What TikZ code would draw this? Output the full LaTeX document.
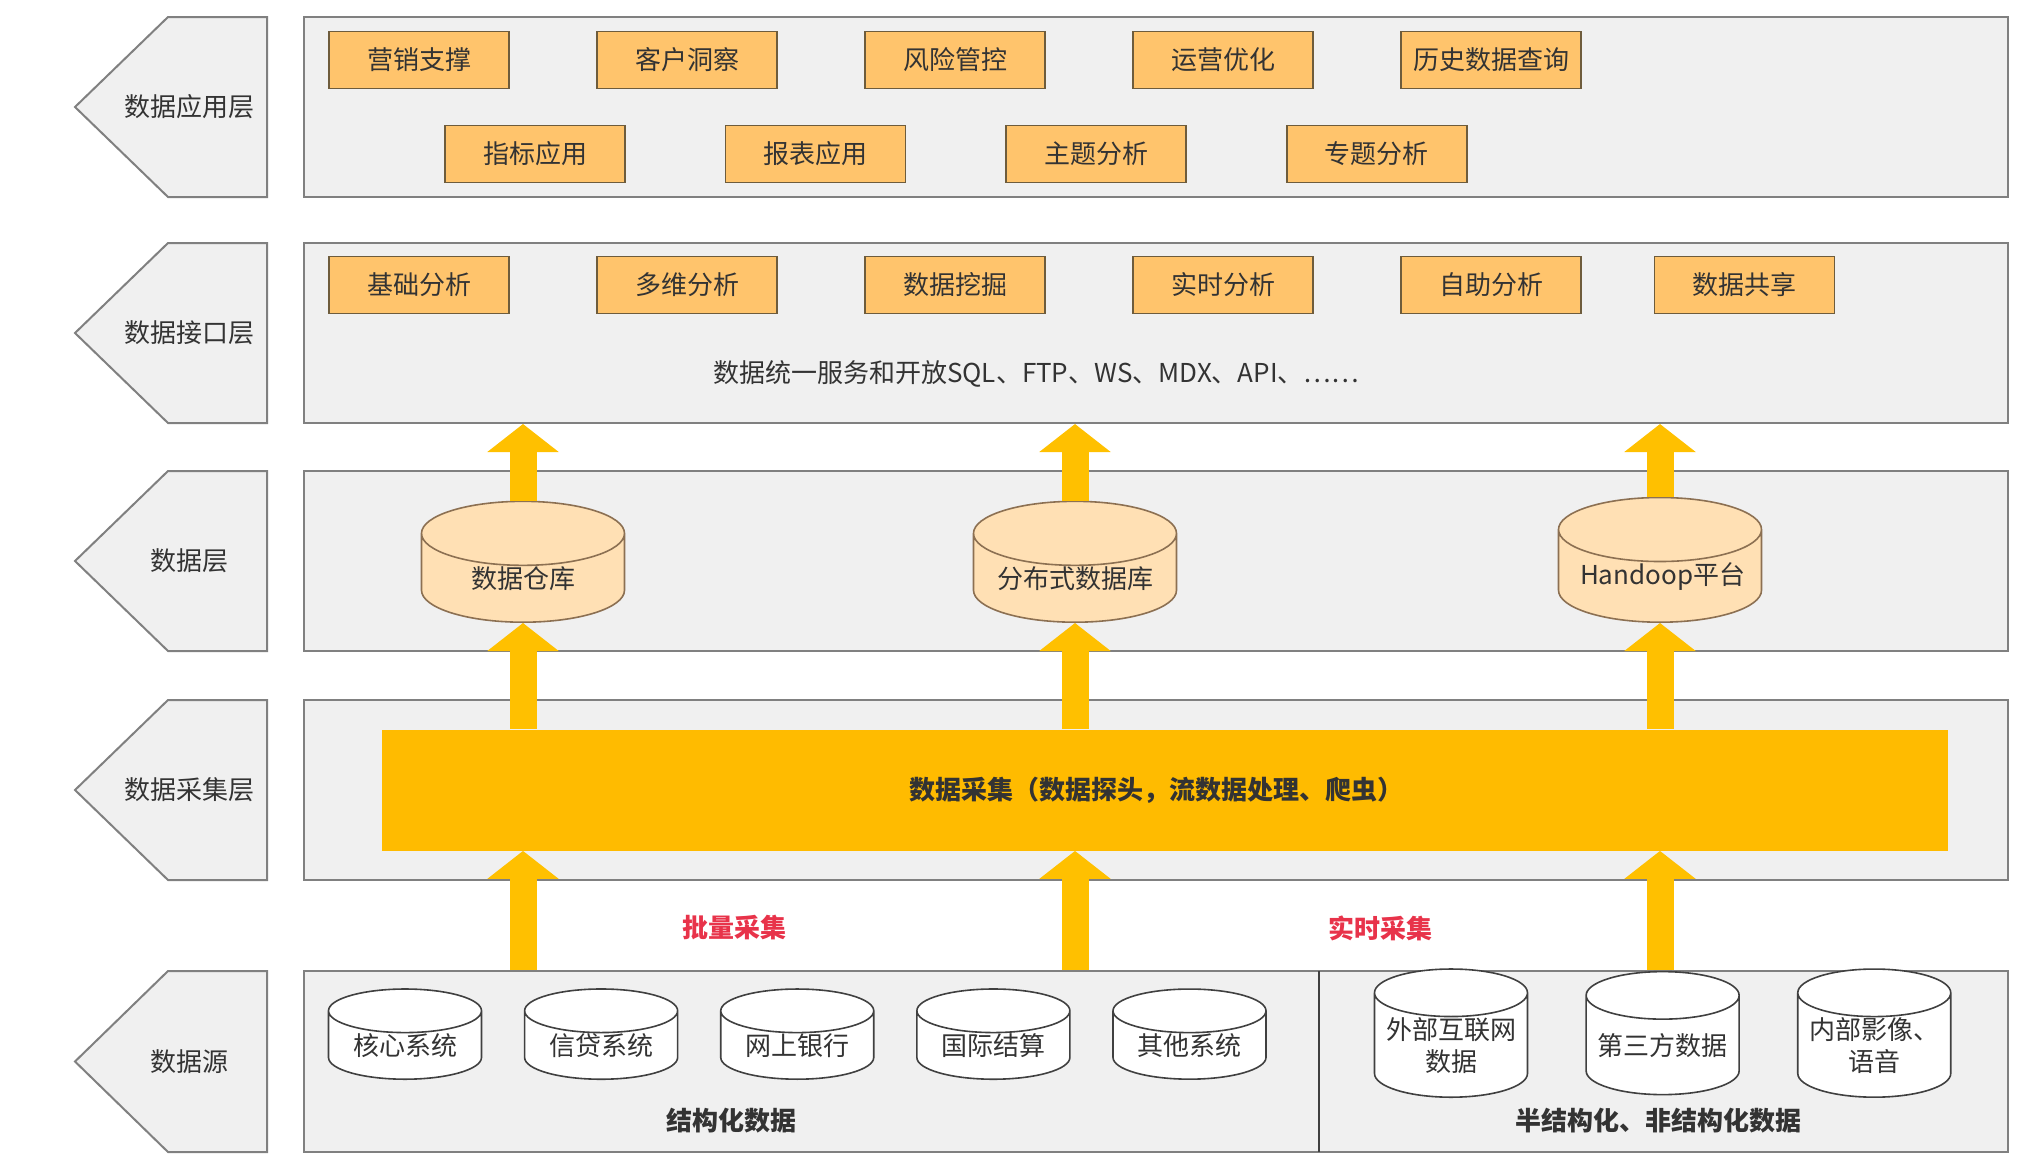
\documentclass[tikz,border=0pt]{standalone}
\usepackage{fontspec}
\setmainfont{Noto Sans CJK SC}
\usetikzlibrary{shapes.geometric,arrows.meta,positioning}

\definecolor{layerfill}{HTML}{F0F0F0}
\definecolor{layerline}{HTML}{808080}
\definecolor{appfill}{HTML}{FFC46C}
\definecolor{appline}{HTML}{6E5C3C}
\definecolor{dbfill}{HTML}{FFE0B4}
\definecolor{dbline}{HTML}{8C7052}
\definecolor{barfill}{HTML}{FFBB00}
\definecolor{flow}{HTML}{FFC000}
\definecolor{tagred}{HTML}{E8334A}
\definecolor{txt}{HTML}{333333}

\tikzset{
  layer/.style={draw=layerline, fill=layerfill, line width=1pt, minimum width=852pt, minimum height=90pt, inner sep=0pt},
  chevron/.style={draw=layerline, fill=layerfill, line width=1pt},
  label13/.style={text=txt, font=\fontsize{13}{16}\selectfont},
  appbox/.style={label13, draw=appline, fill=appfill, line width=0.8pt, minimum width=90pt, minimum height=28.5pt, inner sep=0pt},
  dwh/.style={label13, cylinder, shape border rotate=90, aspect=0.4, draw=dbline, fill=dbfill, line width=0.8pt, minimum width=101.5pt, minimum height=60pt, inner sep=0pt, text width=80pt, align=center, anchor=south},
  srcdb/.style={label13, cylinder, shape border rotate=90, aspect=0.33, draw=black!75, fill=white, line width=0.8pt, minimum width=76.5pt, minimum height=43pt, inner sep=0pt, text width=66pt, align=center, anchor=south},
  flowarrow/.style={draw=flow, line width=13.5pt, -{Triangle[width=35pt,length=14pt]}},
  tag/.style={font=\fontsize{13}{16}\selectfont\bfseries, text=tagred}
}

\begin{document}
\begin{tikzpicture}[x=0.5pt, y=-0.5pt]
\useasboundingbox (0,0) rectangle (2030,1168);

% layers
\node[layer] (app) at (1156,107) {};
\node[layer] (iface) at (1156,333) {};
\node[layer] (data) at (1156,561) {};
\node[layer] (collect) at (1156,790) {};
\node[layer, minimum height=90.5pt] (source) at (1156,1061.5) {};

% chevrons on the left
\foreach \yt/\yb/\name [count=\i] in {17/197/数据应用层, 243/423/数据接口层, 471/651/数据层, 700/880/数据采集层, 971/1152/数据源}{
  \draw[chevron] (75,{(\yt+\yb)/2}) -- (168,\yt) -- (267,\yt) -- (267,\yb) -- (168,\yb) -- cycle;
  \node[label13] (tag\i) at (189,{(\yt+\yb)/2}) {\name};
}

% application layer
\node[appbox] (mkt) at (419,60) {营销支撑};
\node[appbox, right=43.2pt of mkt] (cust) {客户洞察};
\node[appbox, right=43.2pt of cust] (risk) {风险管控};
\node[appbox, right=43.2pt of risk] (ops) {运营优化};
\node[appbox, right=43.2pt of ops] (hist) {历史数据查询};
\node[appbox] (kpi) at (535,154) {指标应用};
\node[appbox, right=49.5pt of kpi] (rpt) {报表应用};
\node[appbox, right=49.5pt of rpt] (topic) {主题分析};
\node[appbox, right=49.5pt of topic] (spec) {专题分析};

% interface layer
\node[appbox] (basic) at (419,285) {基础分析};
\node[appbox, right=43.2pt of basic] (olap) {多维分析};
\node[appbox, right=43.2pt of olap] (mine) {数据挖掘};
\node[appbox, right=43.2pt of mine] (rt) {实时分析};
\node[appbox, right=43.2pt of rt] (self) {自助分析};
\node[appbox, right=36pt of self] (share) {数据共享};
\node[label13] (svc) at (1036,374) {数据统一服务和开放SQL、FTP、WS、MDX、API、……};

% data layer
\node[dwh] (dw) at (523,623) {数据仓库};
\node[dwh] (ddb) at (1075,623) {分布式数据库};
\node[dwh] (hdp) at (1660,623) {Handoop平台};

% collection layer
\node[fill=barfill, minimum width=783pt, minimum height=60.5pt, inner sep=0pt] (bar) at (1165,790) {};
\node[label13, font=\fontsize{13}{16}\selectfont\bfseries] (bartxt) at (1156,790) {数据采集（数据探头，流数据处理、爬虫）};

% source layer
\draw[black!75, line width=0.8pt] (1319,971) -- (1319,1152);
\node[srcdb] (core) at (405,1080) {核心系统};
\node[srcdb, right=20.75pt of core] (loan) {信贷系统};
\node[srcdb, right=20.75pt of loan] (ebank) {网上银行};
\node[srcdb, right=20.75pt of ebank] (intl) {国际结算};
\node[srcdb, right=20.75pt of intl] (other) {其他系统};
\node[srcdb, aspect=0.36, minimum height=61.5pt] (web) at (1451,1098) {外部互联网\\数据};
\node[srcdb, aspect=0.36, minimum height=61.5pt, right=28.5pt of web] (third) {第三方数据};
\node[srcdb, aspect=0.36, minimum height=61.5pt, right=28.5pt of third] (media) {内部影像、\\语音};
\node[label13, font=\fontsize{13}{16}\selectfont\bfseries] (struct) at (731,1121) {结构化数据};
\node[label13, font=\fontsize{13}{16}\selectfont\bfseries] (unstruct) at (1658,1121) {半结构化、非结构化数据};

% collection modes
\node[tag] (batch) at (734,928) {批量采集};
\node[tag] (stream) at (1380,928) {实时采集};

% flows
\foreach \db in {dw, ddb, hdp}{
  \draw[flowarrow] (\db.north) -- (\db.north |- iface.south);
  \draw[flowarrow] (\db |- bar.north) -- (\db.south);
  \draw[flowarrow] (\db |- source.north) -- (\db |- bar.south);
}

\end{tikzpicture}
\end{document}
